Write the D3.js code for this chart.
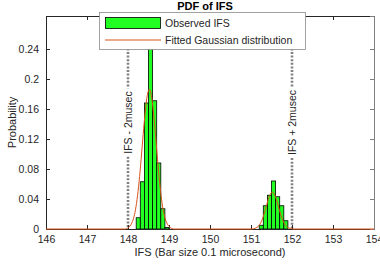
<!DOCTYPE html>
<head>
<meta charset="utf-8">
<title>PDF of IFS</title>
<script src="https://cdn.jsdelivr.net/npm/d3@7"></script>
<style>
body { margin: 0; background: #fff; }
svg text { font-family: "Liberation Sans", Arial, sans-serif; fill: #262626; }
</style>
</head>
<body>
<script>
// histogram bins (left edge, width 0.1) and probabilities
var binLeft = [148.2, 148.3, 148.4, 148.5, 148.6, 148.7, 148.8, 148.9,
               151.2, 151.3, 151.4, 151.5, 151.6, 151.7, 151.8];
var binProb = [0.015, 0.063, 0.168, 0.27, 0.171, 0.088, 0.027, 0.002,
               0.005, 0.031, 0.045, 0.064, 0.043, 0.031, 0.011];

// fitted gaussian curve
var fitX = [146, 147.92, 148.02, 148.07, 148.12, 148.17, 148.22, 148.27, 148.32, 148.37, 148.42, 148.47,
            148.52, 148.57, 148.62, 148.67, 148.72, 148.77, 148.82, 148.87, 148.92, 148.97, 149.02, 149.12,
            151.02, 151.12, 151.17, 151.22, 151.27, 151.32, 151.37, 151.42, 151.47, 151.52, 151.57, 151.62,
            151.67, 151.72, 151.77, 151.82, 151.87, 151.92, 152.02, 154];
var fitY = [0, 0, 0.0025, 0.0056, 0.0117, 0.022, 0.039, 0.063, 0.093, 0.126, 0.156, 0.178,
            0.186, 0.178, 0.156, 0.126, 0.093, 0.063, 0.039, 0.022, 0.0117, 0.0056, 0.0025, 0,
            0, 0.0014, 0.0032, 0.0066, 0.0122, 0.0201, 0.0297, 0.0392, 0.0464, 0.049, 0.0464, 0.0392,
            0.0297, 0.0201, 0.0122, 0.0066, 0.0032, 0.0014, 0, 0];

var xTicks = [146, 147, 148, 149, 150, 151, 152, 153, 154];
var yTicks = [0, 0.04, 0.08, 0.12, 0.16, 0.2, 0.24];
var limLines = [148, 152];
var limLabels = ["IFS - 2musec", "IFS + 2musec"];

var W = 380, H = 265;
var m = {left: 46, right: 6, top: 16, bottom: 36};

var svg = d3.select("body").append("svg").attr("width", W).attr("height", H);

var x = d3.scaleLinear().domain([146, 154]).range([m.left, W - m.right]);
var y = d3.scaleLinear().domain([0, 0.284]).range([H - m.bottom, m.top]);

var plot = svg.append("g");
plot.append("clipPath").attr("id", "clip").append("rect")
	.attr("x", m.left).attr("y", m.top)
	.attr("width", W - m.right - m.left).attr("height", H - m.bottom - m.top);

// bars
plot.append("g").attr("clip-path", "url(#clip)")
	.selectAll("rect").data(binLeft).enter().append("rect")
	.attr("x", function(d) { return x(d); })
	.attr("width", function(d) { return x(d + 0.1) - x(d); })
	.attr("y", function(d, i) { return y(binProb[i]); })
	.attr("height", function(d, i) { return y(0) - y(binProb[i]); })
	.style("fill", "#22ff22")
	.style("stroke", "#000")
	.style("stroke-width", 0.8);

// limit lines with inline labels
limLines.forEach(function(v, i) {
	var lx = x(v);
	var mid = (m.top + H - m.bottom) / 2;
	var t = svg.append("text")
		.attr("transform", "translate(" + (lx + 3.5) + "," + mid + ") rotate(-90)")
		.attr("text-anchor", "middle")
		.style("font-size", "10.5px")
		.text(limLabels[i]);
	var half = t.node().getComputedTextLength() / 2 + 3;
	[[m.top, mid - half], [mid + half, H - m.bottom]].forEach(function(s) {
		svg.append("line")
			.attr("x1", lx).attr("x2", lx).attr("y1", s[0]).attr("y2", s[1])
			.style("stroke", "#808080").style("stroke-width", 2.6)
			.style("stroke-dasharray", "2,1.6");
	});
});

// axes
var xAxisB = d3.axisBottom(x).tickValues(xTicks).tickSize(-4).tickPadding(7);
var xAxisT = d3.axisTop(x).tickValues(xTicks).tickSize(-4).tickFormat("");
var yAxisL = d3.axisLeft(y).tickValues(yTicks).tickSize(-4).tickPadding(7).tickFormat(d3.format("~g"));
var yAxisR = d3.axisRight(y).tickValues(yTicks).tickSize(-4).tickFormat("");

function styleAxis(g, col) {
	g.selectAll("path").style("stroke", col);
	g.selectAll("line").style("stroke", col);
	g.selectAll("text").style("font-size", "10.5px").style("fill", "#262626")
		.style("font-family", "Liberation Sans, Arial, sans-serif");
}
styleAxis(svg.append("g").attr("transform", "translate(0," + (H - m.bottom) + ")").call(xAxisB), "#262626");
styleAxis(svg.append("g").attr("transform", "translate(0," + m.top + ")").call(xAxisT), "#262626");
styleAxis(svg.append("g").attr("transform", "translate(" + m.left + ",0)").call(yAxisL), "#262626");
styleAxis(svg.append("g").attr("transform", "translate(" + (W - m.right) + ",0)").call(yAxisR), "#808080");
svg.selectAll(".domain").attr("d", function() { return d3.select(this).attr("d").replace(/V-?4|V4/g, "V0"); });

// fitted curve
var fit = fitX.map(function(v, i) { return [v, fitY[i]]; });
svg.append("path").datum(fit)
	.attr("d", d3.line().x(function(d) { return x(d[0]); }).y(function(d) { return y(d[1]); }).curve(d3.curveMonotoneX))
	.style("fill", "none").style("stroke", "#d95319").style("stroke-width", 1);

// labels
svg.append("text").attr("x", (m.left + W - m.right) / 2).attr("y", 256)
	.attr("text-anchor", "middle").style("font-size", "11px")
	.text("IFS (Bar size 0.1 microsecond)");
svg.append("text").attr("transform", "translate(16," + ((m.top + H - m.bottom) / 2) + ") rotate(-90)")
	.attr("text-anchor", "middle").style("font-size", "11px").text("Probability");
svg.append("text").attr("x", 205).attr("y", 10)
	.attr("text-anchor", "middle").style("font-size", "11px").style("font-weight", "bold")
	.style("fill", "#000").text("PDF of IFS");

// legend
var lg = svg.append("g");
lg.append("rect").attr("x", 99.5).attr("y", 12.5).attr("width", 206).attr("height", 37)
	.style("fill", "#fff").style("stroke", "#8a8a8a").style("stroke-width", 0.8);
lg.append("rect").attr("x", 105.5).attr("y", 17.5).attr("width", 55).attr("height", 11)
	.style("fill", "#22ff22").style("stroke", "#000").style("stroke-width", 0.8);
lg.append("line").attr("x1", 105).attr("x2", 161).attr("y1", 40).attr("y2", 40)
	.style("stroke", "#d95319").style("stroke-width", 1);
lg.append("text").attr("x", 165).attr("y", 27).style("font-size", "10.5px").text("Observed IFS");
lg.append("text").attr("x", 165).attr("y", 44).style("font-size", "10.5px").text("Fitted Gaussian distribution");
</script>
</body>
